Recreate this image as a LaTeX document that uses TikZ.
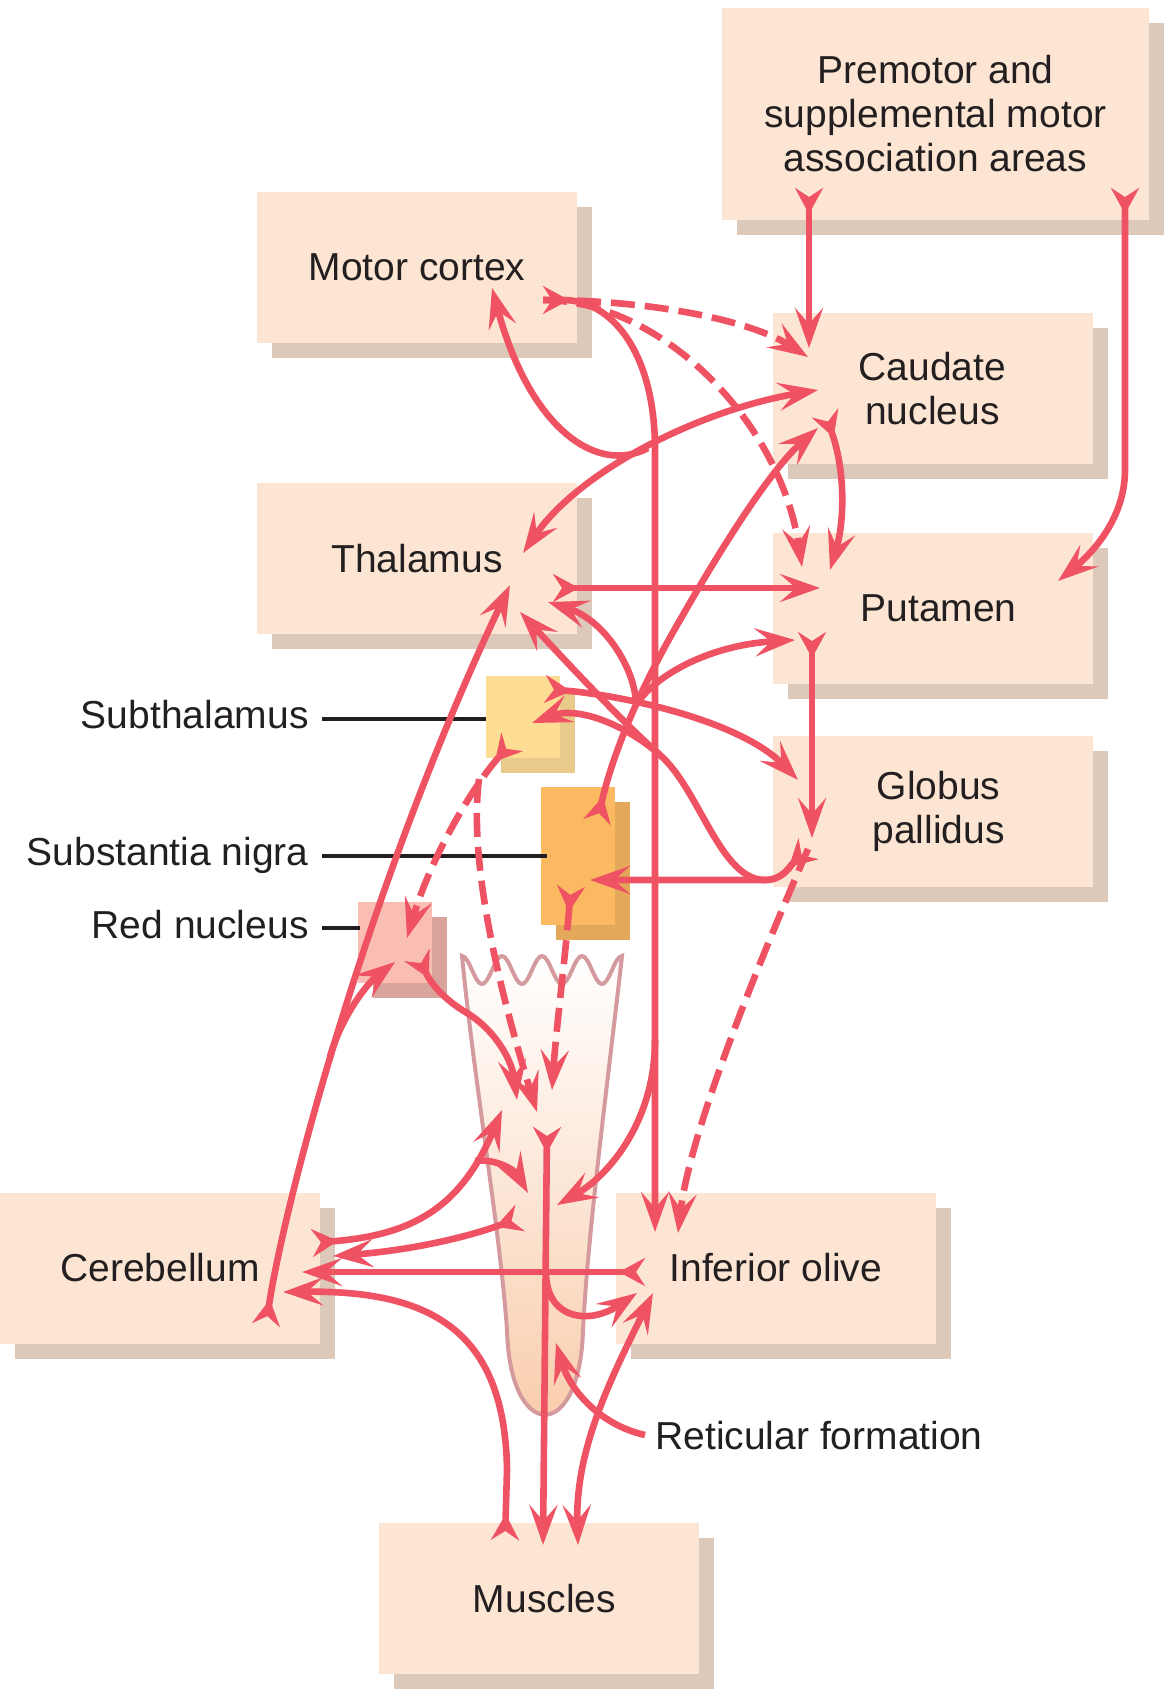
\documentclass[tikz,border=0pt]{standalone}
\usepackage{fontspec}
\setmainfont{Liberation Sans}
\usetikzlibrary{positioning,arrows.meta,shadows}

\definecolor{boxfill}{HTML}{FDE5D3}
\definecolor{boxshade}{HTML}{DCC9BA}
\definecolor{tractc}{HTML}{EF5262}
\definecolor{inkc}{HTML}{231F20}
\definecolor{stnfill}{HTML}{FDDD94}
\definecolor{stnshade}{HTML}{E8CA8A}
\definecolor{snfill}{HTML}{FBB962}
\definecolor{snshade}{HTML}{E3A85A}
\definecolor{rnfill}{HTML}{F9BDB4}
\definecolor{rnshade}{HTML}{D8A49C}
\definecolor{stemline}{HTML}{D59A9E}
\definecolor{stembase}{HTML}{F9CBA9}

\newcommand{\labelfont}{\fontsize{19.5pt}{22pt}\selectfont}

\tikzset{
  region/.style={rectangle, fill=boxfill, inner sep=0pt, minimum width=160pt,
    minimum height=75.5pt, align=center, text=inkc, font=\labelfont,
    drop shadow={shadow xshift=7.5pt, shadow yshift=-7.5pt, fill=boxshade, opacity=1}},
  nucleus/.style 2 args={rectangle, fill=#1, inner sep=0pt, minimum width=37pt,
    drop shadow={shadow xshift=7.5pt, shadow yshift=-7.5pt, fill=#2, opacity=1}},
  tag/.style={inner sep=0pt, text=inkc, font=\labelfont},
  leader/.style={draw=inkc, line width=1.6pt},
  tract/.style={draw=tractc, line width=3.3pt},
  faint/.style={tract, dash pattern=on 12pt off 5pt},
  nub/.tip={Stealth[reversed, length=13pt, width=14pt, inset=4.5pt]},
  >={Stealth[length=20pt, width=14pt, inset=8pt]}
}

\begin{document}
\begin{tikzpicture}[x=0.5pt, y=-0.5pt]
  \useasboundingbox (0,0) rectangle (1176,1692);

  % boxes
  \node[region, minimum width=213.5pt, minimum height=106pt] (premotor) at (935.5,114)
    {Premotor and\\supplemental motor\\association areas};
  \node[region] (motor) at (417,267.5) {Motor cortex};
  \node[region] (thal) [below=69.5pt of motor] {Thalamus};
  \node[region] (caud) at (932.5,388.5) {Caudate\\nucleus};
  \node[region] (put) [below=34pt of caud] {\hspace*{6pt}Putamen};
  \node[region] (gp) [below=25.5pt of put] {\hspace*{6pt}Globus\\\hspace*{6pt}pallidus};
  \node[region] (cereb) at (160,1268) {Cerebellum};
  \node[region] (olive) [right=147.5pt of cereb] {Inferior olive};
  \node[region] (muscle) at (538.5,1598.5) {\hspace*{6pt}Muscles};

  % small nuclei
  \node[nucleus={stnfill}{stnshade}, minimum height=41pt] (stn) at (523,717) {};
  \node[nucleus={snfill}{snshade}, minimum height=69pt] (sn) at (578,856) {};
  \node[nucleus={rnfill}{rnshade}, minimum height=40.5pt] (rn) at (395,942.5) {};

  % side labels
  \node[tag, anchor=base east] (stn-lab) at (309,728) {Subthalamus};
  \node[tag, anchor=base east] (sn-lab) at (309,865) {Substantia nigra};
  \node[tag, anchor=base east] (rn-lab) at (309,938) {Red nucleus};
  \node[tag, anchor=base west] (rf-lab) at (655,1449) {Reticular formation};
  \coordinate (stn-tick) at ([shift={(6.5pt,4.5pt)}]stn-lab.base east);
  \coordinate (sn-tick) at ([shift={(6.5pt,4.5pt)}]sn-lab.base east);
  \coordinate (rn-tick) at ([shift={(6.5pt,5pt)}]rn-lab.base east);
  \draw[leader] (stn-tick) -- (stn-tick -| stn.west);
  \draw[leader] (sn-tick) -- ([xshift=3pt]sn-tick -| sn.west);
  \draw[leader] (rn-tick) -- ([xshift=1pt]rn-tick -| rn.west);

  % brain stem
  \path[draw=stemline, line width=2pt, top color=white, bottom color=stembase]
    (462,956) cos (472,970) sin (482,984) cos (492,970) sin (502,956)
    cos (512,970) sin (522,984) cos (532,970) sin (542,956)
    cos (552,970) sin (562,984) cos (572,970) sin (582,956)
    cos (592,970) sin (602,984) cos (612,970) sin (622,956)
    .. controls (608,1080) and (588,1230) .. (583,1330)
    .. controls (580,1443) and (510,1443) .. (507,1330)
    .. controls (500,1230) and (474,1080) .. (462,956) -- cycle;

  % end points
  \coordinate (pm-a) at (809,188);
  \coordinate (pm-b) at (1125,188);
  \coordinate (cd-pm) at (809,348);
  \coordinate (pt-pm) at (1058,581);
  \coordinate (mc-out) at (543,300);
  \coordinate (mc-in) at (492,288);
  \coordinate (cd-dash) at (808,357);
  \coordinate (pt-dash) at (802,567);
  \coordinate (io-mc) at (655,1232);
  \coordinate (th-cd) at (523,553);
  \coordinate (cd-th) at (818,390);
  \coordinate (sn-out) at (597,822);
  \coordinate (cd-sn) at (818,428);
  \coordinate (pt-sn) at (795,640);
  \coordinate (th-sn) at (548,602);
  \coordinate (th-out) at (553,588);
  \coordinate (pt-th) at (820,588);
  \coordinate (cd-out) at (825,413);
  \coordinate (pt-cd) at (830,570);
  \coordinate (pt-out) at (812,632);
  \coordinate (gp-pt) at (812,838);
  \coordinate (gp-out) at (808,849);
  \coordinate (sn-gp) at (590,880);
  \coordinate (stn-gp) at (532,723);
  \coordinate (th-gp) at (520,612);
  \coordinate (io-gp) at (678,1233);
  \coordinate (stn-out) at (545,689);
  \coordinate (gp-stn) at (798,780);
  \coordinate (stn-dash) at (512,742);
  \coordinate (rn-stn) at (407,938);
  \coordinate (rf-stn) at (537,1112);
  \coordinate (sn-dash) at (571,886);
  \coordinate (rf-sn) at (552,1090);
  \coordinate (rn-out) at (417,955);
  \coordinate (rf-rn) at (517,1100);
  \coordinate (rn-cb) at (395,962);
  \coordinate (cb-out) at (266,1325);
  \coordinate (th-cb) at (510,585);
  \coordinate (cb-side) at (312,1243);
  \coordinate (rf-cb) at (502,1110);
  \coordinate (rf-cb2) at (528,1193);
  \coordinate (rf-mc) at (557,1205);
  \coordinate (rf-out) at (520,1218);
  \coordinate (cb-rf) at (333,1256);
  \coordinate (io-out) at (645,1272);
  \coordinate (cb-io) at (302,1272);
  \coordinate (ms-out) at (505,1540);
  \coordinate (cb-ms) at (283,1292);
  \coordinate (rf-down) at (547,1127);
  \coordinate (ms-rf) at (543,1545);
  \coordinate (io-rf) at (637,1293);
  \coordinate (io-ms) at (653,1293);
  \coordinate (ms-io) at (578,1545);
  \coordinate (rf-point) at (556,1343);

  % premotor
  \draw[tract, nub->] (pm-a) -- (cd-pm);
  \draw[tract, nub->] (pm-b) -- (1125,470) .. controls (1125,520) and (1090,555) .. (pt-pm);

  % motor cortex
  \draw[tract, nub->] (mc-out) .. controls (610,300) and (655,350) .. (655,450) -- (io-mc);
  \draw[tract, ->] (655,1040) .. controls (655,1120) and (610,1175) .. (rf-mc);
  \draw[faint, ->] (mc-out) .. controls (650,300) and (750,320) .. (cd-dash);
  \draw[faint, ->] (mc-out) .. controls (660,300) and (780,420) .. (pt-dash);
  \draw[tract, <->] (th-cd) .. controls (580,470) and (700,410) .. (cd-th);
  \draw[tract, ->] (648,448) .. controls (598,475) and (530,430) .. (mc-in);

  % striatum
  \draw[tract, nub->] (th-out) -- (pt-th);
  \draw[tract, nub->] (cd-out) .. controls (845,470) and (845,520) .. (pt-cd);
  \draw[tract, nub->] (pt-out) -- (gp-pt);

  % substantia nigra
  \draw[tract, nub->] (sn-out) .. controls (615,745) and (645,680) .. (680,620)
    .. controls (720,550) and (770,470) .. (cd-sn);
  \draw[tract, ->] (636,705) .. controls (655,675) and (710,645) .. (pt-sn);
  \draw[tract, ->] (636,705) .. controls (636,670) and (605,620) .. (th-sn);
  \draw[faint, nub->] (sn-dash) .. controls (565,960) and (556,1030) .. (rf-sn);

  % globus pallidus
  \draw[tract, nub->] (gp-out) .. controls (790,866) and (783,880) .. (765,880) -- (sn-gp);
  \draw[tract, nub->] (gp-out) .. controls (790,866) and (783,880) .. (765,880)
    .. controls (720,880) and (700,790) .. (660,755)
    .. controls (630,728) and (580,705) .. (stn-gp);
  \draw[tract, ->] (660,755) .. controls (620,720) and (560,655) .. (th-gp);
  \draw[faint, ->] (gp-out) .. controls (760,960) and (690,1130) .. (io-gp);

  % subthalamus
  \draw[tract, nub->] (stn-out) .. controls (620,695) and (740,720) .. (gp-stn);
  \draw[faint, nub->] (stn-dash) .. controls (470,790) and (430,860) .. (rn-stn);
  \draw[faint, ->] (479,779) .. controls (470,850) and (490,960) .. (rf-stn);

  % red nucleus
  \draw[tract, nub->] (rn-out) .. controls (432,985) and (445,1000) .. (467,1013)
    .. controls (495,1030) and (512,1060) .. (rf-rn);
  \draw[tract, ->] (330,1057) .. controls (340,1020) and (365,985) .. (rn-cb);

  % cerebellum
  \draw[tract, nub->] (cb-out) .. controls (285,1200) and (370,880) .. (th-cb);
  \draw[tract, nub->] (cb-side) .. controls (410,1235) and (460,1210) .. (rf-cb);
  \draw[tract, ->] (475,1161) .. controls (495,1158) and (515,1170) .. (rf-cb2);
  \draw[tract, nub->] (rf-out) .. controls (450,1243) and (390,1252) .. (cb-rf);
  \draw[tract, nub->] (io-out) -- (cb-io);
  \draw[tract, nub->] (ms-out) -- (507,1470) .. controls (505,1330) and (430,1290) .. (cb-ms);

  % reticular formation
  \draw[tract, nub->] (rf-down) -- (ms-rf);
  \draw[tract, ->] (546,1275) .. controls (548,1320) and (590,1325) .. (io-rf);
  \draw[tract, <->] (io-ms) .. controls (610,1380) and (575,1450) .. (ms-io);
  \draw[tract, ->] ([shift={(-5pt,7pt)}]rf-lab.base west)
    .. controls (600,1425) and (570,1390) .. (rf-point);
\end{tikzpicture}
\end{document}
